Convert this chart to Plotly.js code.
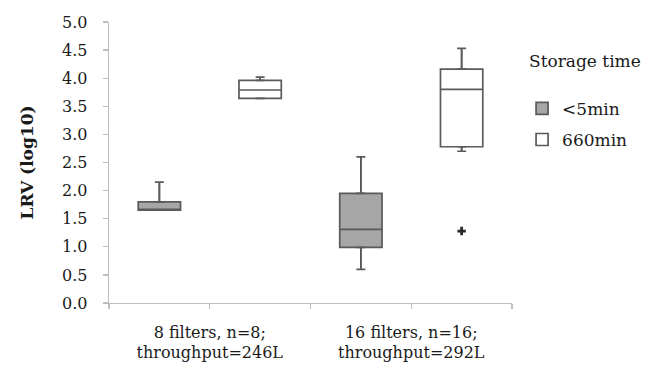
<!DOCTYPE html>
<html>
<head>
<meta charset="utf-8">
<script src="https://cdn.plot.ly/plotly-3.0.1.min.js"></script>
<style>html,body{margin:0;padding:0;background:#fff;}#chart{width:645px;height:369px;}</style>
</head>
<body>
<div id="chart"></div>
<script>
// Groups on the x axis (each holds two boxes)
const groupLabels = ["8 filters, n=8;<br>throughput=246L", "16 filters, n=16;<br>throughput=292L"];
const seriesNames = ["<5min", "660min"];

// Box statistics per series, one value per group
const short_lower  = [1.65, 0.60];
const short_q1     = [1.65, 0.99];
const short_median = [1.65, 1.31];
const short_q3     = [1.80, 1.95];
const short_upper  = [2.15, 2.60];

const long_lower   = [3.64, 2.70];
const long_q1      = [3.64, 2.78];
const long_median  = [3.79, 3.80];
const long_q3      = [3.96, 4.16];
const long_upper   = [4.02, 4.53];

// Outliers: [group index, series name, value]
const outlierGroup  = [1];
const outlierSeries = ["660min"];
const outlierValue  = [1.28];

const yTicks = [0, 0.5, 1, 1.5, 2, 2.5, 3, 3.5, 4, 4.5, 5];

const FONT = "DejaVu Serif, Liberation Serif, serif";
const LINE = "#5a5a5a";
const fills = {"<5min": "#a6a6a6", "660min": "#ffffff"};

// slot position of a series within a group (each group spans two slots)
function pos(groupIdx, seriesName) {
  return groupIdx * 2 + seriesNames.indexOf(seriesName) + 0.5;
}

const stats = {
  "<5min":  {lower: short_lower, q1: short_q1, median: short_median, q3: short_q3, upper: short_upper},
  "660min": {lower: long_lower,  q1: long_q1,  median: long_median,  q3: long_q3,  upper: long_upper}
};

const traces = [];
seriesNames.forEach((name, si) => {
  const s = stats[name];
  const xs = groupLabels.map((_, gi) => pos(gi, name));
  traces.push({
    type: "box", name: name, x: xs,
    q1: s.q1, median: s.median, q3: s.q3, lowerfence: s.lower, upperfence: s.upper,
    width: 0.42, whiskerwidth: 0,
    fillcolor: fills[name],
    line: {color: LINE, width: 1.7},
    boxpoints: false, hoverinfo: "skip",
    legendgroup: "g" + si, showlegend: true
  });
  // whisker caps via error bars
  traces.push({
    type: "scatter", mode: "markers", x: xs, y: s.q3,
    marker: {size: 0.1, color: "rgba(0,0,0,0)"},
    error_y: {type: "data", symmetric: false,
      array: s.upper.map((u, i) => u - s.q3[i]), arrayminus: s.q3.map(() => 0),
      color: LINE, thickness: 1.7, width: 4.5},
    showlegend: false, hoverinfo: "skip"
  });
  traces.push({
    type: "scatter", mode: "markers", x: xs, y: s.q1,
    marker: {size: 0.1, color: "rgba(0,0,0,0)"},
    error_y: {type: "data", symmetric: false,
      array: s.q1.map(() => 0), arrayminus: s.lower.map((l, i) => s.q1[i] - l),
      color: LINE, thickness: 1.7, width: 4.5},
    showlegend: false, hoverinfo: "skip"
  });
});

traces.push({
  type: "scatter", mode: "markers",
  x: outlierGroup.map((g, i) => pos(g, outlierSeries[i])),
  y: outlierValue,
  marker: {symbol: "cross", size: 7, color: "#2a2a2a"},
  showlegend: false, hoverinfo: "skip"
});

const layout = {
  width: 645, height: 369,
  margin: {l: 109, r: 131, t: 22, b: 66},
  paper_bgcolor: "#ffffff", plot_bgcolor: "#ffffff",
  showlegend: true,
  font: {family: FONT, size: 16, color: "#1a1a1a"},
  xaxis: {
    range: [0, 4], tickmode: "array",
    tickvals: [0, 1, 2, 3, 4],
    ticktext: ["", groupLabels[0], "", groupLabels[1], ""],
    showgrid: false, zeroline: false, showline: true,
    linecolor: "#bdbdbd", linewidth: 1.3,
    ticks: "outside", ticklen: 5, tickcolor: "#bdbdbd", tickwidth: 1.3,
    tickfont: {family: FONT, size: 16, color: "#1a1a1a"},
    ticklabelstandoff: 9
  },
  yaxis: {
    range: [0, 5], tickmode: "array", tickvals: yTicks,
    ticktext: yTicks.map(v => v.toFixed(1)),
    showgrid: false, zeroline: false, showline: true,
    linecolor: "#bdbdbd", linewidth: 1.3,
    ticks: "outside", ticklen: 5, tickcolor: "#bdbdbd", tickwidth: 1.3,
    tickfont: {family: FONT, size: 16, color: "#1a1a1a"},
    ticklabelstandoff: 12,
    title: {text: "<b>LRV (log10)</b>", font: {family: FONT, size: 17, color: "#1a1a1a"}, standoff: 24}
  },
  legend: {
    x: 1.025, xanchor: "left", y: 0.755, yanchor: "top",
    font: {family: FONT, size: 17, color: "#1a1a1a"},
    traceorder: "grouped", tracegroupgap: 6,
    bgcolor: "rgba(0,0,0,0)", itemwidth: 30
  },
  annotations: [{
    text: "Storage time", xref: "paper", yref: "paper",
    x: 1.037, y: 0.861, xanchor: "left", yanchor: "middle",
    showarrow: false, font: {family: FONT, size: 17, color: "#1a1a1a"}
  }]
};

Plotly.newPlot("chart", traces, layout, {staticPlot: true, displayModeBar: false});
</script>
</body>
</html>
